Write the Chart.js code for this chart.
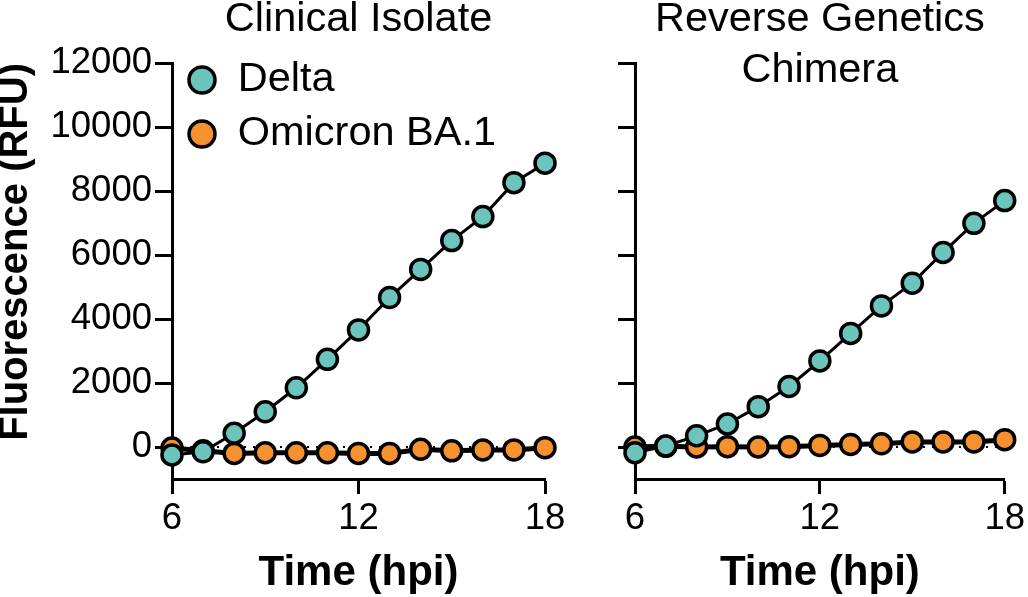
<!DOCTYPE html>
<html>
<head>
<meta charset="utf-8">
<title>Fluorescence time course</title>
<script src="https://cdn.jsdelivr.net/npm/chart.js@4.4.1/dist/chart.umd.min.js"></script>
<style>
  html, body { margin: 0; padding: 0; background: #fff; }
  body { width: 1028px; height: 597px; position: relative; overflow: hidden; }
  canvas { position: absolute; top: 0; }
  #chLeft { left: 0; }
  #chRight { left: 580px; }
</style>
</head>
<body>
<canvas id="chLeft" width="580" height="597"></canvas>
<canvas id="chRight" width="448" height="597"></canvas>
<script>
/* fluorescence (RFU) over time, two panels */

// time points (hpi)
var hours = [6, 7, 8, 9, 10, 11, 12, 13, 14, 15, 16, 17, 18];

// clinical isolate
var deltaClinical   = [-250, -150, 430, 1100, 1850, 2740, 3660, 4670, 5550, 6450, 7200, 8260, 8870];
var omicronClinical = [-30, -120, -200, -180, -180, -180, -200, -200, -70, -120, -90, -90, -20];

// reverse genetics chimera
var deltaChimera   = [-180, 30, 350, 720, 1260, 1890, 2690, 3550, 4410, 5120, 6080, 6990, 7700];
var omicronChimera = [0, 20, 0, 10, 0, 10, 50, 80, 100, 160, 160, 160, 230];

// dotted zero line
var baseHours = [6, 18];
var baseValues = [0, 0];

// tick labels
var xTicks = [6, 12, 18];
var yTicks = [0, 2000, 4000, 6000, 8000, 10000, 12000];

var seriesNames = ['Delta', 'Omicron BA.1'];
var panelTitles = ['Clinical Isolate', ['Reverse Genetics', 'Chimera']];

// colors
var teal = '#6cc5bc';
var orange = '#f5922f';
var ink = '#000000';

Chart.defaults.font.family = "'Liberation Sans', Arial, sans-serif";
Chart.defaults.color = ink;

function pairs(xs, ys) {
  return xs.map(function (x, i) { return {x: x, y: ys[i]}; });
}

function fixedTicks(values) {
  return function (s) { s.ticks = values.map(function (v) { return {value: v}; }); };
}

function makeDatasets(delta, omicron) {
  return [
    {
      label: seriesNames[0],
      data: pairs(hours, delta),
      borderColor: ink, borderWidth: 3,
      backgroundColor: teal,
      pointBackgroundColor: teal, pointBorderColor: ink,
      pointBorderWidth: 3.5, pointRadius: 10,
      tension: 0, clip: false
    },
    {
      label: seriesNames[1],
      data: pairs(hours, omicron),
      borderColor: ink, borderWidth: 5,
      backgroundColor: orange,
      pointBackgroundColor: orange, pointBorderColor: ink,
      pointBorderWidth: 3.5, pointRadius: 10,
      tension: 0, clip: false
    },
    {
      label: 'zero',
      data: pairs(baseHours, baseValues),
      borderColor: ink, borderWidth: 2, borderDash: [2, 7],
      pointRadius: 0, clip: false
    }
  ];
}

// move the in-plot legend to the top left corner of the plot
var legendNudge = {
  id: 'legendNudge',
  afterLayout: function (chart, args, opts) {
    if (!chart.legend || !opts.enabled) return;
    chart.legend.left = chart.chartArea.left + opts.dx;
    chart.legend.top = chart.chartArea.top + opts.dy;
  }
};

function xScale() {
  return {
    type: 'linear', min: 6, max: 18,
    afterBuildTicks: fixedTicks(xTicks),
    ticks: {padding: 3, font: {size: 36.5, lineHeight: 1.2}, color: ink, maxRotation: 0, autoSkip: false},
    grid: {drawOnChartArea: false, tickLength: 15, tickWidth: 3, tickColor: ink},
    border: {color: ink, width: 3},
    title: {display: true, text: 'Time (hpi)', color: ink, font: {size: 42, weight: 'bold', lineHeight: 1.1}, padding: {top: 12, bottom: 0}},
    afterFit: function (s) { s.height = 118; }
  };
}

function yScale(showLabels, width) {
  return {
    type: 'linear', min: -1000, max: 12000,
    afterBuildTicks: fixedTicks(yTicks),
    ticks: {
      display: showLabels, padding: 3, autoSkip: false,
      font: {size: 36.5, lineHeight: 1.2}, color: ink,
      callback: function (v) { return String(v); }
    },
    grid: {drawOnChartArea: false, tickLength: 17, tickWidth: 3, tickColor: ink},
    border: {color: ink, width: 3},
    title: {display: showLabels, text: 'Fluorescence (RFU)', align: 'end', color: ink, font: {size: 40, weight: 'bold', lineHeight: 0.8}, padding: 0},
    afterFit: function (s) { s.width = width; }
  };
}

function panelOptions(title, titlePad, showLegend, showYLabels, yWidth, padRight) {
  return {
    responsive: false,
    animation: false,
    layout: {padding: {left: 0, top: 0, right: padRight, bottom: 0}},
    scales: {x: xScale(), y: yScale(showYLabels, yWidth)},
    plugins: {
      title: {
        display: true, text: title, fullSize: false, color: ink,
        font: {size: 41.5, weight: 'normal', lineHeight: '51px'},
        padding: titlePad
      },
      legend: {
        display: showLegend, position: 'chartArea', align: 'start',
        labels: {
          usePointStyle: true, pointStyle: 'circle',
          boxWidth: 30, boxHeight: 18.4, padding: 12.5,
          font: {size: 41.5}, color: ink,
          filter: function (item) { return item.datasetIndex < 2; }
        }
      },
      legendNudge: {enabled: showLegend, dx: 2.5, dy: -16.25},
      tooltip: {enabled: false}
    }
  };
}

var chLeft = document.getElementById('chLeft');
if (chLeft) {
  new Chart(chLeft, {
    type: 'line',
    data: {datasets: makeDatasets(deltaClinical, omicronClinical)},
    options: panelOptions(panelTitles[0], {top: -5.5, bottom: 17.5}, true, true, 172, 35),
    plugins: [legendNudge]
  });
}

var chRight = document.getElementById('chRight');
if (chRight) {
  new Chart(chRight, {
    type: 'line',
    data: {datasets: makeDatasets(deltaChimera, omicronChimera)},
    options: panelOptions(panelTitles[1], {top: -5.5, bottom: -33.5}, false, false, 55, 21),
    plugins: [legendNudge]
  });
}
</script>
</body>
</html>
